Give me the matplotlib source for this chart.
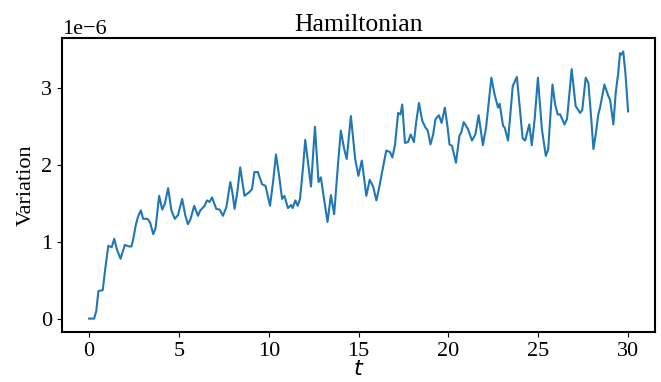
import matplotlib.pyplot as plt

# values (units of 1e-6)
t = [0.0, 0.28, 0.4, 0.52, 0.76, 0.9, 1.07, 1.26, 1.40, 1.55, 1.75, 1.99, 2.23, 2.36,
     2.46, 2.60, 2.74, 2.88, 3.01, 3.25, 3.40, 3.57, 3.70, 3.90, 4.07, 4.22, 4.40, 4.58,
     4.77, 4.95, 5.18, 5.35, 5.50, 5.65, 5.85, 6.06, 6.19, 6.43, 6.56, 6.71, 6.84, 7.08,
     7.27, 7.45, 7.64, 7.86, 7.97, 8.10, 8.25, 8.41, 8.65, 8.93, 9.07, 9.20, 9.39, 9.63,
     9.82, 10.07, 10.25, 10.40, 10.59, 10.74, 10.87, 11.07, 11.24, 11.33, 11.48, 11.61,
     11.74, 11.90, 12.03, 12.20, 12.35, 12.57, 12.77, 12.90, 13.05, 13.27, 13.46, 13.64,
     13.85, 14.01, 14.20, 14.34, 14.57, 14.81, 14.99, 15.18, 15.43, 15.62, 15.81, 15.99,
     16.14, 16.30, 16.54, 16.75, 16.88, 17.03, 17.20, 17.33, 17.43, 17.58, 17.75, 17.90,
     18.08, 18.20, 18.36, 18.54, 18.72, 18.85, 19.0, 19.15, 19.28, 19.47, 19.62, 19.80,
     19.95, 20.06, 20.20, 20.42, 20.61, 20.72, 20.85, 21.09, 21.31, 21.50, 21.68, 21.92,
     22.10, 22.39, 22.57, 22.76, 22.85, 23.04, 23.13, 23.32, 23.58, 23.81, 23.95, 24.13,
     24.27, 24.50, 24.64, 24.80, 24.98, 25.20, 25.42, 25.55, 25.79, 25.94, 26.08, 26.22,
     26.46, 26.60, 26.86, 27.08, 27.33, 27.45, 27.64, 27.79, 27.95, 28.07, 28.20, 28.34,
     28.44, 28.68, 28.90, 29.00, 29.18, 29.31, 29.45, 29.55, 29.64, 29.73, 29.85, 30.0]
variation = [0.0, 0.0, 0.1, 0.36, 0.37, 0.65, 0.95, 0.93, 1.04, 0.90, 0.78, 0.96, 0.94, 0.94,
             1.04, 1.22, 1.34, 1.41, 1.30, 1.30, 1.25, 1.10, 1.18, 1.60, 1.42, 1.50, 1.70, 1.41,
             1.30, 1.35, 1.56, 1.35, 1.23, 1.30, 1.47, 1.34, 1.41, 1.47, 1.54, 1.52, 1.58, 1.43,
             1.42, 1.34, 1.45, 1.78, 1.65, 1.43, 1.65, 1.97, 1.60, 1.65, 1.69, 1.91, 1.91, 1.75,
             1.73, 1.47, 1.80, 2.14, 1.84, 1.56, 1.60, 1.44, 1.48, 1.44, 1.54, 1.47,
             1.56, 1.95, 2.33, 2.00, 1.72, 2.50, 1.78, 1.84, 1.60, 1.26, 1.61, 1.36,
             2.00, 2.45, 2.21, 2.08, 2.64, 2.08, 1.86, 2.06, 1.60, 1.81, 1.72, 1.54,
             1.70, 1.90, 2.19, 2.17, 2.10, 2.27, 2.68, 2.66, 2.79, 2.29, 2.30, 2.40,
             2.30, 2.55, 2.81, 2.58, 2.49, 2.45, 2.27, 2.40, 2.60, 2.65, 2.55, 2.75,
             2.50, 2.27, 2.25, 2.03, 2.38, 2.43, 2.56, 2.47, 2.32, 2.40, 2.65, 2.26,
             2.50, 3.14, 2.92, 2.75, 2.80, 2.51, 2.49, 2.32, 3.03, 3.15, 2.80, 2.35,
             2.32, 2.53, 2.26, 2.60, 3.14, 2.47, 2.12, 2.20, 3.05, 2.79, 2.66, 2.66,
             2.53, 2.60, 3.25, 2.77, 2.68, 2.72, 3.14, 3.07, 2.60, 2.21, 2.40, 2.66,
             2.75, 3.05, 2.90, 2.85, 2.53, 2.94, 3.20, 3.46, 3.44, 3.48, 3.20, 2.70]

plt.rcParams['font.family'] = ['Liberation Serif', 'DejaVu Serif']
plt.rcParams['mathtext.fontset'] = 'dejavusans'

fig, ax = plt.subplots(figsize=(6.61, 3.82), dpi=100)
fig.subplots_adjust(left=0.094, right=0.991, top=0.90, bottom=0.131)

ax.plot(t, [v * 1e-6 for v in variation], color='#1f77b4', linewidth=1.5)

ax.set_title("Hamiltonian", fontsize=18.5, pad=5)
ax.set_xlabel("$t$", fontsize=16, labelpad=0)
ax.set_ylabel("Variation", fontsize=16, labelpad=4)
ax.tick_params(axis='both', labelsize=16)
ax.yaxis.get_offset_text().set_fontsize(16)
for s in ax.spines.values():
    s.set_linewidth(1.5)

fig.savefig("out.png", dpi=100)
